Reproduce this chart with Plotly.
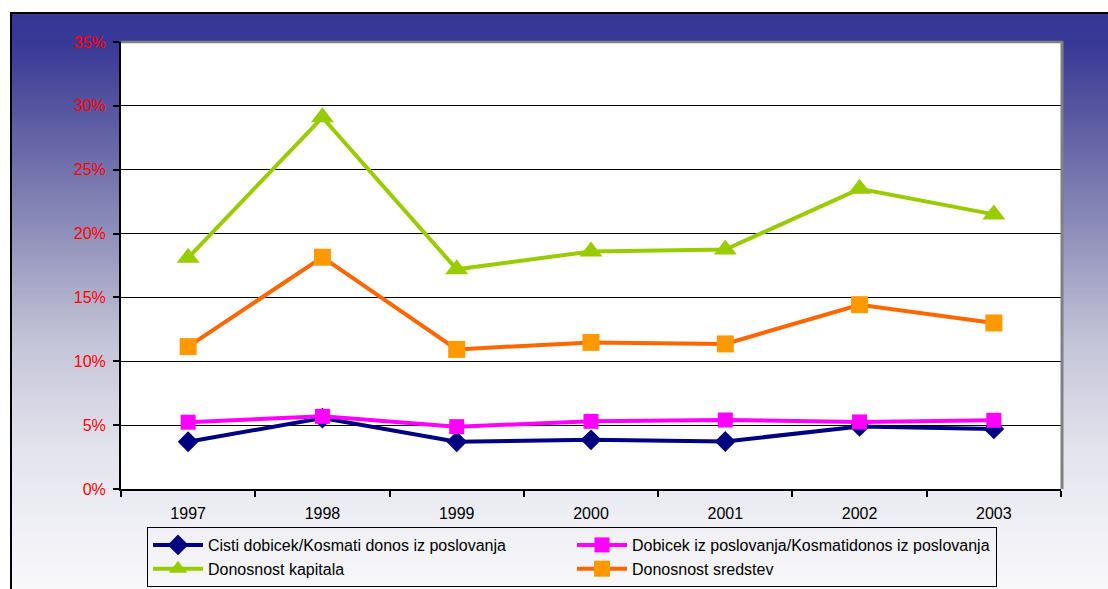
import plotly.graph_objects as go

# ---- data ----
years = ["1997", "1998", "1999", "2000", "2001", "2002", "2003"]
cisti_dobicek = [3.7, 5.55, 3.7, 3.85, 3.72, 4.9, 4.7]
dobicek_posl = [5.23, 5.69, 4.88, 5.3, 5.4, 5.25, 5.38]
donos_kapitala = [18.1, 29.1, 17.2, 18.6, 18.75, 23.5, 21.5]
donos_sredstev = [11.15, 18.15, 10.93, 11.48, 11.36, 14.43, 13.0]
series_names = [
    "Cisti dobicek/Kosmati donos iz poslovanja",
    "Dobicek iz poslovanja/Kosmatidonos iz poslovanja",
    "Donosnost kapitala",
    "Donosnost sredstev",
]
y_ticks = [0, 5, 10, 15, 20, 25, 30, 35]
y_tick_labels = ["%d%%" % v for v in y_ticks]

W, H = 1108, 589
L, R, T, B = 121, 47, 42, 45
PW, PH = W - L - R, H - T - B
PLOT_BOTTOM = 489  # pixel row of the x axis


def px(x):
    return (x - L) / PW


def py(y):
    return (H - B - y) / PH


FONT = "Arial, Liberation Sans, sans-serif"

fig = go.Figure()
fig.add_trace(go.Scatter(
    x=years, y=cisti_dobicek, name=series_names[0], mode="lines+markers",
    line=dict(color="#000080", width=4),
    marker=dict(symbol="diamond", size=16, color="#000080"),
))
fig.add_trace(go.Scatter(
    x=years, y=dobicek_posl, name=series_names[1], mode="lines+markers",
    line=dict(color="#FF00FF", width=4),
    marker=dict(symbol="square", size=15, color="#FF00FF"),
))
fig.add_trace(go.Scatter(
    x=years, y=donos_kapitala, name=series_names[2], mode="lines+markers",
    line=dict(color="#99CC00", width=4),
    marker=dict(symbol="triangle-up", size=20, color="#99CC00"),
))
fig.add_trace(go.Scatter(
    x=years, y=donos_sredstev, name=series_names[3], mode="lines+markers",
    line=dict(color="#FF6600", width=4),
    marker=dict(symbol="square", size=17, color="#FF9900"),
))

# ---- background gradient (outer chart area) ----
stops = [
    (12, (54, 54, 150)),
    (42, (56, 56, 151)),
    (113, (88, 88, 160)),
    (226, (140, 140, 185)),
    (340, (195, 195, 215)),
    (453, (228, 228, 238)),
    (600, (250, 250, 252)),
]


def grad_color(y):
    for (y0, c0), (y1, c1) in zip(stops[:-1], stops[1:]):
        if y0 <= y <= y1:
            t = (y - y0) / (y1 - y0)
            return "rgb(%d,%d,%d)" % tuple(round(a + (b - a) * t) for a, b in zip(c0, c1))
    return "rgb(%d,%d,%d)" % stops[-1][1]


shapes = []
step = 3
y = 12
while y < H + 5:
    shapes.append(dict(
        type="rect", xref="paper", yref="paper", layer="below",
        x0=px(10), x1=px(W + 10), y0=py(y), y1=py(y + step + 0.6),
        fillcolor=grad_color(y + step / 2), line=dict(width=0),
    ))
    y += step

# outer black frame
shapes.append(dict(type="rect", xref="paper", yref="paper", layer="below",
                   x0=px(11), x1=px(W + 20), y0=py(13), y1=py(H + 20),
                   fillcolor="rgba(0,0,0,0)", line=dict(color="black", width=2)))
# plot area white
shapes.append(dict(type="rect", xref="paper", yref="paper", layer="below",
                   x0=0, x1=1, y0=py(PLOT_BOTTOM), y1=1,
                   fillcolor="white", line=dict(width=0)))
# gray border on top and right of plot area
shapes.append(dict(type="line", xref="paper", yref="paper", layer="above",
                   x0=0, x1=px(1062), y0=py(42), y1=py(42),
                   line=dict(color="#808080", width=2.5)))
shapes.append(dict(type="line", xref="paper", yref="paper", layer="above",
                   x0=px(1062), x1=px(1062), y0=py(41), y1=py(PLOT_BOTTOM),
                   line=dict(color="#808080", width=3)))

fig.update_layout(
    width=W, height=H,
    margin=dict(l=L, r=R, t=T, b=B, pad=0, autoexpand=False),
    paper_bgcolor="white",
    plot_bgcolor="rgba(0,0,0,0)",
    font=dict(family=FONT, size=16, color="black"),
    shapes=shapes,
    showlegend=True,
    legend=dict(
        orientation="h",
        x=px(147), y=py(527), xanchor="left", yanchor="top",
        bgcolor="rgba(0,0,0,0)", bordercolor="black", borderwidth=1,
        font=dict(family=FONT, size=16, color="black"),
        entrywidth=359, entrywidthmode="pixels",
        itemwidth=50,
    ),
    xaxis=dict(
        type="category", range=[-0.5, 6.5], automargin=False,
        showline=True, linecolor="black", linewidth=2,
        ticks="outside", tickson="boundaries", ticklen=6, tickcolor="black", tickwidth=1.5,
        showgrid=False, zeroline=False,
        tickfont=dict(family=FONT, size=16, color="black"),
        ticklabelstandoff=9,
    ),
    yaxis=dict(
        domain=[py(PLOT_BOTTOM), 1], automargin=False,
        range=[0, 35], tickvals=y_ticks, ticktext=y_tick_labels,
        showline=True, linecolor="black", linewidth=2,
        ticks="outside", ticklen=6, tickcolor="black", tickwidth=1.5,
        showgrid=True, gridcolor="black", gridwidth=1,
        zeroline=False,
        tickfont=dict(family=FONT, size=16, color="#FF0000"),
        ticklabelstandoff=4,
    ),
)

fig.write_html(
    "out.html",
    config={"displayModeBar": False},
    post_script="document.body.style.margin='0px';document.body.style.overflow='hidden';",
)
